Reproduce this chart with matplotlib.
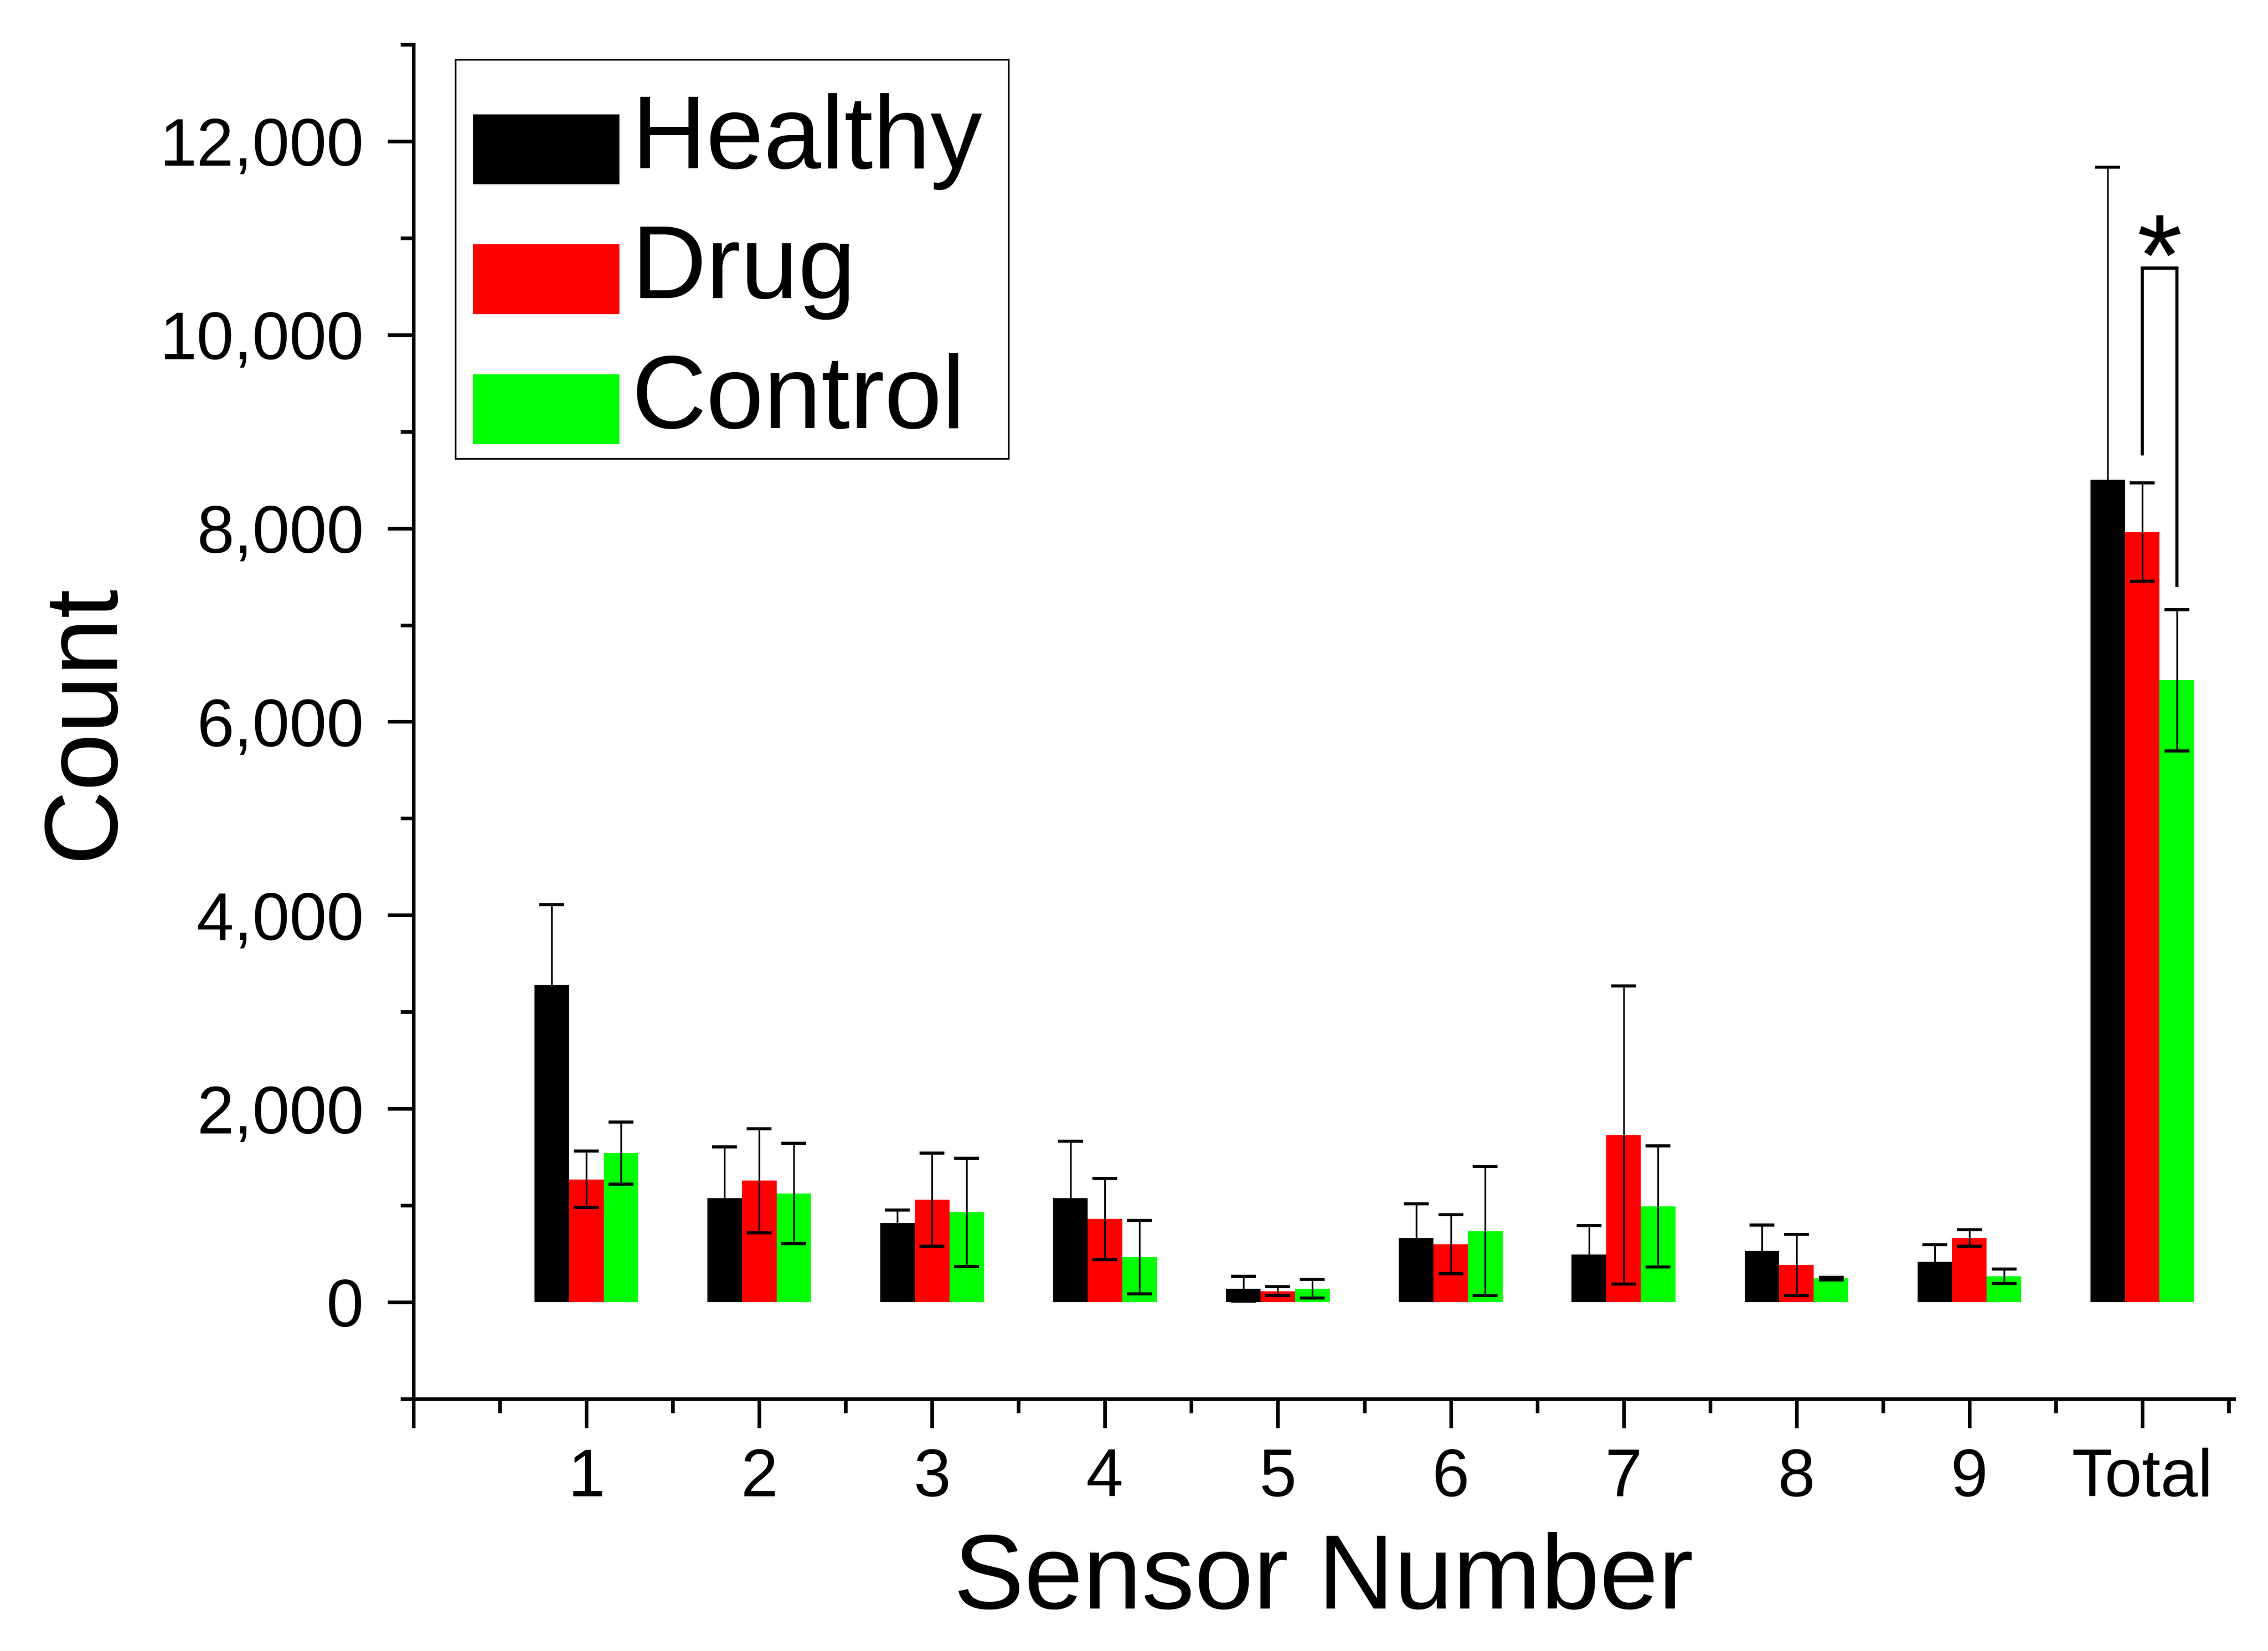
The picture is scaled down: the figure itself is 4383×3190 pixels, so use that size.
import matplotlib
matplotlib.use("Agg")
import matplotlib.pyplot as plt
import numpy as np
from matplotlib.ticker import FuncFormatter, FixedLocator
from matplotlib.patches import Rectangle
from matplotlib.legend_handler import HandlerPatch, update_from_first_child
from matplotlib.container import BarContainer

plt.rcParams['font.family'] = ['Liberation Sans', 'DejaVu Sans']

categories = ['1', '2', '3', '4', '5', '6', '7', '8', '9', 'Total']
series_names = ['Healthy', 'Drug', 'Control']
series_colors = ['#000000', '#ff0000', '#00ff00']

healthy = [3280, 1075, 820, 1075, 140, 665, 490, 530, 420, 8500]
healthy_err = [830, 530, 130, 590, 130, 350, 300, 265, 175, 3230]
drug = [1270, 1255, 1060, 860, 115, 600, 1730, 385, 665, 7960]
drug_err = [290, 540, 480, 420, 47, 305, 1540, 315, 85, 510]
control = [1540, 1125, 930, 465, 140, 735, 990, 245, 270, 6430]
control_err = [320, 520, 560, 380, 95, 665, 625, 12, 75, 730]

# significance bracket between Drug and Control of "Total"
sig_top = 10690
sig_left_bottom = 8770
sig_right_bottom = 7410
sig_label = '*'

W, H, DPI = 4383, 3190, 300
fig = plt.figure(figsize=(W / DPI, H / DPI), dpi=DPI)
ax = fig.add_axes([799 / W, 1 - 2703 / H, (4317 - 799) / W, (2703 - 86) / H])

x = np.arange(1, len(categories) + 1)
bw = 0.2
values = [healthy, drug, control]
errors = [healthy_err, drug_err, control_err]
for i, (vals, errs, name, col) in enumerate(zip(values, errors, series_names, series_colors)):
    xpos = x + (i - 1) * bw
    ax.bar(xpos, vals, width=bw, color=col, label=name, edgecolor='none', zorder=2)
    ax.errorbar(xpos, vals, yerr=errs, fmt='none', ecolor='black', elinewidth=0.8,
                capsize=5.8, capthick=1.4, zorder=3)

# bracket
xl = x[-1]
xr = x[-1] + bw
ax.plot([xl, xl, xr, xr], [sig_left_bottom, sig_top, sig_top, sig_right_bottom],
        color='black', lw=1.5, zorder=4, solid_joinstyle='miter')
ax.text((xl + xr) / 2, 10410, sig_label, ha='center', va='baseline', fontsize=54, zorder=5)

ax.set_xlim(0, 10.53)
ax.set_ylim(-1000, 13000)

ax.xaxis.set_major_locator(FixedLocator(np.arange(0, 11)))
ax.set_xticklabels([''] + categories)
ax.xaxis.set_minor_locator(FixedLocator(np.arange(0.5, 11, 1.0)))
ax.yaxis.set_major_locator(FixedLocator(np.arange(0, 12001, 2000)))
ax.yaxis.set_minor_locator(FixedLocator(np.arange(-1000, 13001, 2000)))
ax.yaxis.set_major_formatter(FuncFormatter(lambda v, p: f'{int(v):,}'))

for s in ['top', 'right']:
    ax.spines[s].set_visible(False)
for s in ['left', 'bottom']:
    ax.spines[s].set_linewidth(1.7)

ax.tick_params(axis='both', which='major', direction='out', width=1.7, labelsize=31)
ax.tick_params(axis='y', which='major', length=12, pad=11)
ax.tick_params(axis='x', which='major', length=13.5, pad=9)
ax.tick_params(axis='y', which='minor', direction='out', width=1.7, length=6)
ax.tick_params(axis='x', which='minor', direction='out', width=1.7, length=6.5)

ax.set_ylabel('Count', fontsize=48, labelpad=12)
ax.set_xlabel('Sensor Number', fontsize=49, labelpad=10)


def shifted_rect(legend, orig_handle, xdescent, ydescent, width, height, fontsize):
    return Rectangle((-xdescent, -ydescent - 8), width, height)


leg = ax.legend(loc='upper left', bbox_to_anchor=(0.023, 0.977), fontsize=48,
                frameon=False,
                handlelength=1.415, handleheight=0.66, handletextpad=0.12,
                labelspacing=0.32, borderpad=0.17, borderaxespad=0,
                handler_map={BarContainer: HandlerPatch(patch_func=shifted_rect,
                                                        update_func=update_from_first_child)})

frame = Rectangle((0.0230, 0.6943), 0.3039, 0.2946, transform=ax.transAxes,
                  fill=False, edgecolor='black', linewidth=0.8, zorder=6, clip_on=False)
ax.add_patch(frame)

fig.savefig('out.png', dpi=DPI)
